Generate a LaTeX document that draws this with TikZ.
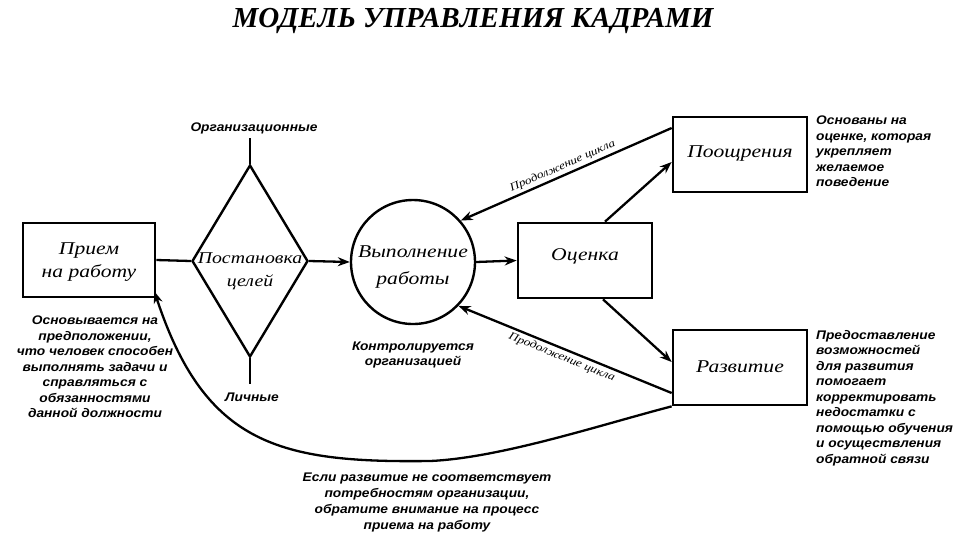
\documentclass[tikz,border=0pt]{standalone}
\usepackage{fontspec}
\setmainfont{Liberation Serif}
\newfontfamily\boxfont[FakeStretch=1.2]{Liberation Serif}
\newfontfamily\notefont[FakeStretch=1.1]{Liberation Sans}
\usetikzlibrary{shapes.geometric,arrows.meta,calc}
\begin{document}
\begin{tikzpicture}[x=1pt,y=-1pt,
  box/.style={draw, line width=2.7pt, minimum width=134pt, minimum height=75pt, inner sep=0pt},
  boxtxt/.style={font=\boxfont\itshape\fontsize{18}{23}\selectfont, align=center, inner sep=0pt},
  note/.style={font=\notefont\bfseries\itshape\fontsize{12.5}{15.5}\selectfont, inner sep=0pt},
  conn/.style={line width=2.3pt},
  arr/.style={conn, -{Stealth[length=12pt,width=9pt]}},
  cyc/.style={font=\boxfont\itshape\fontsize{11}{12}\selectfont, inner sep=2.5pt}]

\useasboundingbox (0,0) rectangle (961,558);

\node[font=\bfseries\itshape\fontsize{29}{32}\selectfont] (title) at (473,21) {МОДЕЛЬ УПРАВЛЕНИЯ КАДРАМИ};

% main shapes
\node[box, minimum width=132pt, minimum height=74pt] (priem) at (89,260) {};
\node[boxtxt] (priemtxt) at (89,262) {Прием\\на работу};

\node[draw, diamond, line width=2.4pt, minimum width=116pt, minimum height=192pt, inner sep=0pt] (goal) at (250,261) {};
\node[boxtxt, font=\boxfont\itshape\fontsize{16.5}{23}\selectfont] (goaltxt) at (250,271) {Постановка\\целей};

\node[draw, circle, line width=2.4pt, minimum size=124pt, inner sep=0pt] (circ) at (413,262) {};
\node[boxtxt, font=\boxfont\itshape\fontsize{18}{27}\selectfont] (circtxt) at (413,267) {Выполнение\\работы};

\node[box] (ocenka) at (585,260.5) {};
\node[boxtxt] (ocenkatxt) at (585,256) {Оценка};

\node[box] (pooshr) at (740,154.5) {};
\node[boxtxt] (pooshrtxt) at (740,154) {Поощрения};

\node[box] (razv) at (740,367.5) {};
\node[boxtxt] (razvtxt) at (740,367) {Развитие};

% labels
\node[note] (org) at (254,128) {Организационные};
\node[note] (lich) at (252,397) {Личные};
\node[note, align=center] (kontr) at (413,355) {Контролируется\\организацией};

\node[note, align=center] (n1) at (95,367) {Основывается на\\предположении,\\что человек способен\\выполнять задачи и\\справляться с\\обязанностями\\данной должности};
\node[note, align=left, anchor=north west] (n2) at (816,116) {Основаны на\\оценке, которая\\укрепляет\\желаемое\\поведение};
\node[note, align=left, anchor=north west] (n3) at (816,330) {Предоставление\\возможностей\\для развития\\помогает\\корректировать\\недостатки с\\помощью обучения\\и осуществления\\обратной связи};
\node[note, align=center, font=\notefont\bfseries\itshape\fontsize{12.5}{16}\selectfont] (n4) at (427,502) {Если развитие не соответствует\\потребностям организации,\\обратите внимание на процесс\\приема на работу};

% coordinates
\coordinate (orgend) at ($(goal.north)+(0,-26)$);
\coordinate (lichend) at ($(goal.south)+(0,26)$);
\coordinate (ocTop) at ($(ocenka.north)+(20,0)$);
\coordinate (ocBot) at ($(ocenka.south)+(18,0)$);
\coordinate (poIn) at ($(pooshr.west)+(0,7.5)$);
\coordinate (poOut) at ($(pooshr.west)+(0,-26.5)$);
\coordinate (raIn) at ($(razv.west)+(0,-5.5)$);
\coordinate (raOut) at ($(razv.west)+(0,25.5)$);
\coordinate (prIn) at ($(priem.south east)+(-2,-7)$);

% connectors
\draw[conn] (priem.east) -- (goal.west);
\draw[conn] (goal.north) -- (orgend);
\draw[conn] (goal.south) -- (lichend);
\draw[arr] (goal.east) -- (circ.west);
\draw[arr] (circ.east) -- (ocenka.west);
\draw[arr] (ocTop) -- (poIn);
\draw[arr] (ocBot) -- (raIn);
\draw[arr] (poOut) -- node[cyc, sloped, above] {Продолжение цикла} (circ.41);
\draw[arr] (raOut) -- node[cyc, sloped, below] {Продолжение цикла} (circ.-44);
\draw[arr] (razv.south west) .. controls (600,425) and (500,458) .. (430,461)
  .. controls (280,463) and (205,445) .. (prIn);

\end{tikzpicture}
\end{document}
